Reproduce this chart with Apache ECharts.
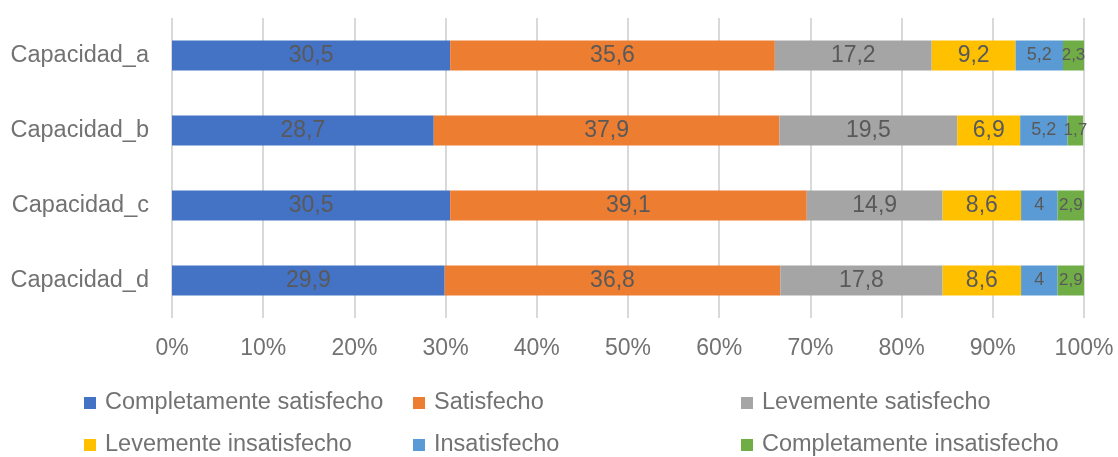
<!DOCTYPE html>
<html>
<head>
<meta charset="utf-8">
<script src="https://cdn.jsdelivr.net/npm/echarts@6/dist/echarts.min.js"></script>
<style>
  html, body { margin: 0; padding: 0; background: #fff; }
  #chart { width: 1118px; height: 457px; }
</style>
</head>
<body>
<div id="chart"></div>
<script>
// Capacidades evaluadas (eje vertical, de arriba hacia abajo)
const categories = ['Capacidad_a', 'Capacidad_b', 'Capacidad_c', 'Capacidad_d'];

// Porcentaje de respuestas por nivel de satisfacción
const completamenteSatisfecho   = [30.5, 28.7, 30.5, 29.9];
const satisfecho                = [35.6, 37.9, 39.1, 36.8];
const levementeSatisfecho       = [17.2, 19.5, 14.9, 17.8];
const levementeInsatisfecho     = [9.2, 6.9, 8.6, 8.6];
const insatisfecho              = [5.2, 5.2, 4, 4];
const completamenteInsatisfecho = [2.3, 1.7, 2.9, 2.9];

const xTicks = [0, 10, 20, 30, 40, 50, 60, 70, 80, 90, 100];

const seriesDefs = [
  { name: 'Completamente satisfecho',   data: completamenteSatisfecho,   color: '#4472C4', size: 23 },
  { name: 'Satisfecho',                 data: satisfecho,                color: '#ED7D31', size: 23 },
  { name: 'Levemente satisfecho',       data: levementeSatisfecho,       color: '#A5A5A5', size: 23 },
  { name: 'Levemente insatisfecho',     data: levementeInsatisfecho,     color: '#FFC000', size: 23 },
  { name: 'Insatisfecho',               data: insatisfecho,              color: '#5B9BD5', size: 18 },
  { name: 'Completamente insatisfecho', data: completamenteInsatisfecho, color: '#70AD47', size: 17 }
];

// Legend grid: three columns, two rows
const legendColumns = [84, 413, 741];
const legendRows = [391, 433];

const FONT = '"Liberation Sans", Arial, sans-serif';
const fmtComma = v => String(v).replace('.', ',');

const chart = echarts.init(document.getElementById('chart'), null, { renderer: 'canvas' });

const legends = seriesDefs.map((s, i) => ({
  data: [s.name],
  left: legendColumns[i % 3],
  top: legendRows[Math.floor(i / 3)],
  padding: 0,
  icon: 'rect',
  itemWidth: 12,
  itemHeight: 12,
  selectedMode: false,
  textStyle: { fontFamily: FONT, fontSize: 23.5, lineHeight: 23, color: '#727272', padding: [0, 0, 0, 4] }
}));

chart.setOption({
  animation: false,
  backgroundColor: '#ffffff',
  grid: { left: 172, right: 34, top: 18, height: 300, containLabel: false },
  legend: legends,
  xAxis: {
    type: 'value',
    min: xTicks[0],
    max: xTicks[xTicks.length - 1],
    interval: xTicks[1] - xTicks[0],
    axisLine: { show: false },
    axisTick: { show: false },
    splitLine: { show: true, lineStyle: { color: '#d9d9d9', width: 2 } },
    axisLabel: {
      margin: 19,
      fontFamily: FONT,
      fontSize: 23,
      color: '#727272',
      formatter: v => v + '%'
    }
  },
  yAxis: {
    type: 'category',
    data: categories,
    inverse: true,
    axisLine: { show: false },
    axisTick: { show: false },
    splitLine: { show: false },
    axisLabel: {
      margin: 23,
      fontFamily: FONT,
      fontSize: 23.5,
      color: '#727272'
    }
  },
  series: seriesDefs.map(s => ({
    name: s.name,
    type: 'bar',
    stack: 'total',
    barWidth: 30,
    data: s.data,
    itemStyle: { color: s.color },
    label: {
      show: true,
      position: 'inside',
      fontFamily: FONT,
      fontSize: s.size,
      color: '#595959',
      formatter: p => fmtComma(p.value)
    }
  }))
});
</script>
</body>
</html>
